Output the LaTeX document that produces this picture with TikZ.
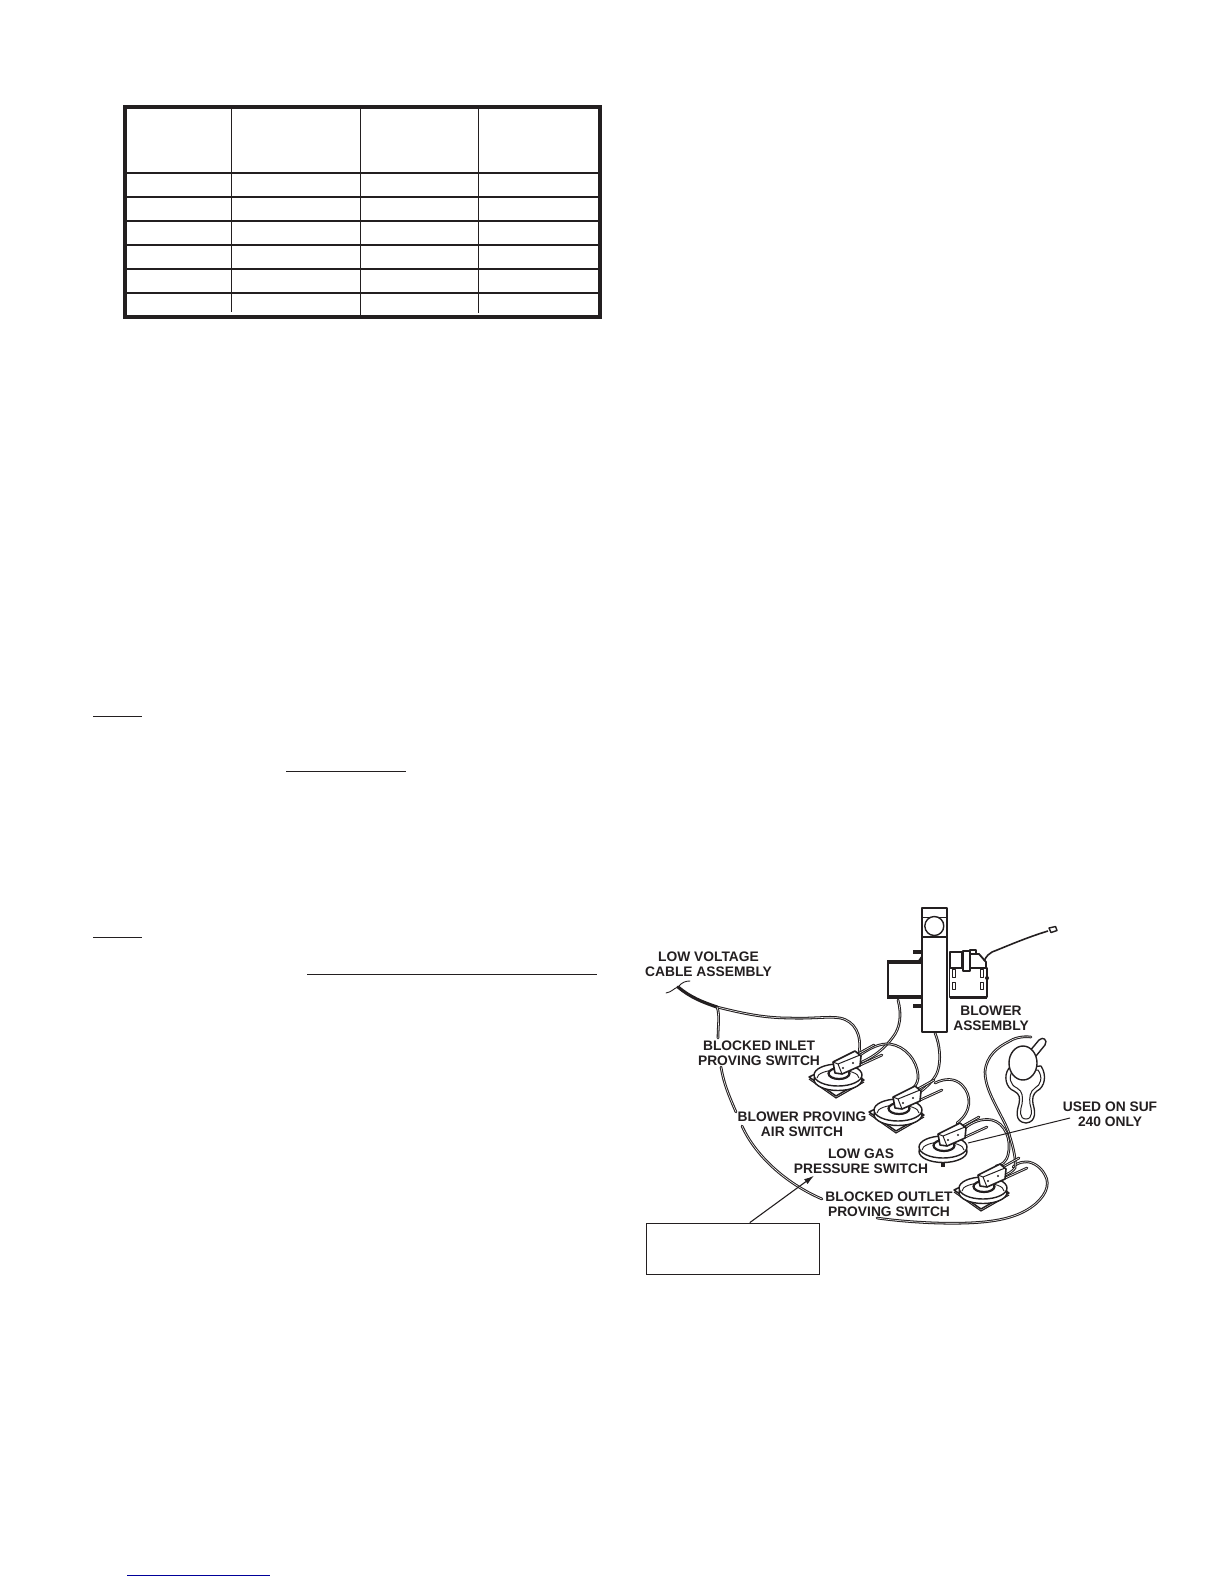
\documentclass[tikz,border=0pt]{standalone}
\usepackage{fontspec}
\setmainfont{Liberation Sans}
\usetikzlibrary{arrows.meta}
\definecolor{ink}{HTML}{231F20}
\tikzset{
  lab/.style={align=center,inner sep=0pt,text=ink,font=\fontsize{6.9}{7.5}\selectfont\bfseries},
  wire/.style={draw=ink,line width=0.52pt,double=white,double distance=0.28pt,line cap=round,line join=round},
  thin wire/.style={draw=ink,line width=0.45pt,line cap=round},
  part/.style={draw=ink,line width=0.7pt,fill=white,line join=round},
  rule/.style={draw=ink,line width=0.65pt},
  tablerow/.style={draw=ink,line width=0.95pt},
  tablecol/.style={draw=ink,line width=0.7pt},
}
\newcommand{\pswitchbody}{%
  \draw[wire] (18,-20) -- (36,-30);
  \draw[wire] (20,-9) -- (44,-20);
  \draw[part] (0,4.5) ellipse [x radius=24,y radius=11];
  \draw[part] (0,0) ellipse [x radius=24,y radius=11];
  \draw[draw=ink,line width=0.45pt] (-21,3) arc [start angle=180,end angle=360,x radius=21,y radius=8];
  \draw[part,line width=1.1pt] (1,-1.5) ellipse [x radius=10.5,y radius=5.5];
  \draw[part,line width=0.8pt] (-5,-13) -- (17,-24) -- (23,-19) -- (22,-9) -- (4,-1) -- (-3,-2) -- cycle;
  \draw[draw=ink,line width=0.5pt] (-5,-13) -- (0,-11) -- (22,-20) (0,-11) -- (4,-1);
  \fill[ink] (5,-7) circle (1.2) (15,-12) circle (1.2);
}
\newcommand{\pswitchbase}{%
  \draw[part,line width=0.75pt] (-29,2) -- (-2,21) -- (26,5) -- (0,-12) -- cycle;
  \draw[draw=ink,line width=0.55pt] (-29,4) -- (-2,23) -- (26,7);
}
\begin{document}
\begin{tikzpicture}[x=0.5pt,y=-0.5pt]
\useasboundingbox (0,0) rectangle (1224,1584);
% table
\draw[tablecol] (231.3,108) -- (231.3,312);
\draw[tablecol] (360.3,108) -- (360.3,316);
\draw[tablecol] (478.3,108) -- (478.3,313);
\foreach \yy in {172.7,196.7,221,245,268.7,292.7} \draw[tablerow] (125,\yy) -- (600,\yy);
\draw[draw=ink,line width=2pt] (125,107) rectangle (600,317);
% underlines
\draw[rule] (93,716.3) -- (142,716.3);
\draw[rule] (286,771.3) -- (406,771.3);
\draw[rule] (93,937.3) -- (142,937.3);
\draw[rule] (307,974.3) -- (597,974.3);
\draw[draw=blue!60!black,line width=0.5pt] (127,1575) -- (270,1575);
% cable
\draw[thin wire] (666,993) .. controls (672,992) and (674,988) .. (678,987) .. controls (682,982) and (686,981) .. (690,981);
\draw[draw=ink,line width=1.6pt,line cap=round] (678,987) .. controls (690,997) and (702,1002) .. (717,1007);
\draw[wire] (717,1007) .. controls (745,1014) and (765,1018) .. (790,1018) .. controls (810,1019) and (830,1016) .. (840,1018) .. controls (855,1021) and (862,1035) .. (859,1053);
\draw[wire] (717,1007) .. controls (720,1015) and (718,1025) .. (718,1038);
\draw[wire] (721,1067) .. controls (724,1085) and (730,1098) .. (736,1112);
\draw[wire] (742,1126) .. controls (755,1155) and (785,1183) .. (822,1199);
\draw[wire] (877,1218) .. controls (905,1222) and (940,1224) .. (967,1223) .. controls (995,1222) and (1015,1218) .. (1030,1208) .. controls (1045,1198) and (1051,1185) .. (1045,1175) .. controls (1040,1165) and (1030,1161) .. (1025,1162) .. controls (1020,1162) and (1016,1164) .. (1013,1167);
% between switches
\draw[wire] (898,1000) .. controls (902,1015) and (900,1028) .. (893,1037) .. controls (885,1048) and (875,1056) .. (862,1062);
\draw[wire] (860,1055) .. controls (870,1048) and (880,1043) .. (890,1044) .. controls (905,1046) and (917,1060) .. (918,1075) .. controls (919,1086) and (910,1091) .. (905,1093);
\draw[wire] (935,1033) .. controls (940,1045) and (941,1060) .. (938,1070) .. controls (936,1078) and (928,1086) .. (920,1092);
\draw[wire] (935,1083) .. controls (945,1078) and (955,1078) .. (962,1085) .. controls (972,1095) and (972,1112) .. (957,1123);
\draw[wire] (965,1128) .. controls (972,1122) and (982,1118) .. (992,1120) .. controls (1005,1123) and (1012,1140) .. (1008,1155) .. controls (1006,1162) and (1002,1165) .. (996,1166);
\draw[wire] (1031,1037) .. controls (1022,1036) and (1014,1038) .. (1008,1042) .. controls (998,1047) and (986,1056) .. (985,1072) .. controls (985,1085) and (992,1098) .. (997,1108) .. controls (1003,1120) and (1008,1128) .. (1010,1137) .. controls (1014,1150) and (1016,1160) .. (1015,1168) .. controls (1012,1172) and (1008,1174) .. (1003,1176);
% bulb
\draw[part,line width=0.65pt] (1009,1068) .. controls (1003,1076) and (1006,1088) .. (1014,1091) .. controls (1020,1094) and (1020,1098) .. (1019,1104) .. controls (1017,1110) and (1014,1122) .. (1026,1123) .. controls (1037,1122) and (1035,1110) .. (1033,1104) .. controls (1032,1098) and (1033,1094) .. (1037,1091) .. controls (1045,1087) and (1047,1075) .. (1041,1066) -- cycle;
\draw[part,line width=0.5pt] (1013,1070) .. controls (1008,1077) and (1010,1085) .. (1017,1088) .. controls (1023,1091) and (1023,1098) .. (1022,1104) .. controls (1020,1110) and (1019,1119) .. (1026,1119) .. controls (1033,1119) and (1032,1110) .. (1030,1104) .. controls (1029,1098) and (1030,1091) .. (1035,1088) .. controls (1041,1085) and (1043,1077) .. (1038,1070) -- cycle;
\draw[part] (1029,1052) -- (1039,1040) .. controls (1043,1036) and (1048,1040) .. (1045,1045) -- (1036,1056) -- cycle;
\draw[part] (1023,1063) ellipse [x radius=14,y radius=17];
% blower
\draw[draw=ink,line width=1.7pt] (913,952) -- (922,952) (913,1006) -- (922,1006);
\draw[part,line width=1pt] (887.5,962) rectangle (922,997);
\draw[draw=ink,line width=1.7pt] (887,962) -- (922,962) (887,997) -- (922,997);
\fill[ink] (917,962) -- (922,955) -- (922,962) -- cycle;
\draw[part,line width=1pt] (922,908) rectangle (947,1032);
\draw[draw=ink,line width=0.5pt] (922,917) -- (947,917);
\draw[draw=ink,line width=0.8pt] (922,937) -- (947,937);
\draw[part] (934.3,926) circle (9.5);
\draw[part,line width=0.8pt] (949.5,968) rectangle (987,997);
\draw[draw=ink,line width=1.5pt] (949.5,997) -- (987,997);
\draw[part,line width=0.9pt] (950,952) rectangle (962,968);
\draw[part,line width=0.9pt] (970,954) -- (979,954) -- (986,962) -- (986,968) -- (970,968) -- cycle;
\draw[part,line width=0.8pt] (963,951) rectangle (970,971);
\draw[part,line width=0.7pt] (970,950) rectangle (976,954);
\draw[part,line width=0.5pt] (952,969) rectangle (955,977);
\draw[part,line width=0.5pt] (952,982) rectangle (955,989);
\draw[part,line width=0.5pt] (980,969) rectangle (983,977);
\draw[part,line width=0.5pt] (980,982) rectangle (983,989);
\fill[ink] (987,978) circle (2);
\draw[draw=ink,line width=0.8pt] (984,961) .. controls (987,955) and (989,954) .. (992,952) .. controls (1005,947) and (1025,938) .. (1048,931);
\draw[part] (1049,928) -- (1055.5,926.5) -- (1057,930.5) -- (1051,932.5) -- cycle;
% switches
\begin{scope}[shift={(838,1075)}]\pswitchbase\pswitchbody\end{scope}
\begin{scope}[shift={(898,1110)}]\pswitchbase\pswitchbody\end{scope}
\begin{scope}[shift={(943,1147)}]
  \fill[ink] (-2,14) rectangle (2,20);
  \pswitchbody
\end{scope}
\begin{scope}[shift={(983,1188)}]\pswitchbase\pswitchbody\end{scope}
% labels
\node[lab] (lowvolt) at (708.5,964.5) {LOW VOLTAGE\\CABLE ASSEMBLY};
\node[lab] (inlet) at (759,1053.5) {BLOCKED INLET\\PROVING SWITCH};
\node[lab] (blower) at (991,1018) {BLOWER\\ASSEMBLY};
\node[lab] (airsw) at (802,1124) {BLOWER PROVING\\AIR SWITCH};
\node[lab] (lowgas) at (861,1161.5) {LOW GAS\\PRESSURE SWITCH};
\node[lab] (outlet) at (889,1204) {BLOCKED OUTLET\\PROVING SWITCH};
\node[lab] (used) at (1110,1114) {USED ON SUF\\240 ONLY};
% note box and leaders
\node[draw=ink,line width=0.5pt,minimum width=86.5pt,minimum height=25.5pt,inner sep=0pt] (notebox) at (732.8,1248.6) {};
\coordinate (notetip) at (814,1175.7);
\coordinate (notestart) at ([xshift=8.5pt]notebox.north);
\draw[draw=ink,line width=0.55pt,-{Latex[length=5pt,width=3pt]}] (notestart) -- (notetip);
\coordinate (gasend) at (968,1143);
\coordinate (usedend) at (1070,1118);
\draw[draw=ink,line width=0.5pt] (gasend) -- (usedend);
\end{tikzpicture}
\end{document}
